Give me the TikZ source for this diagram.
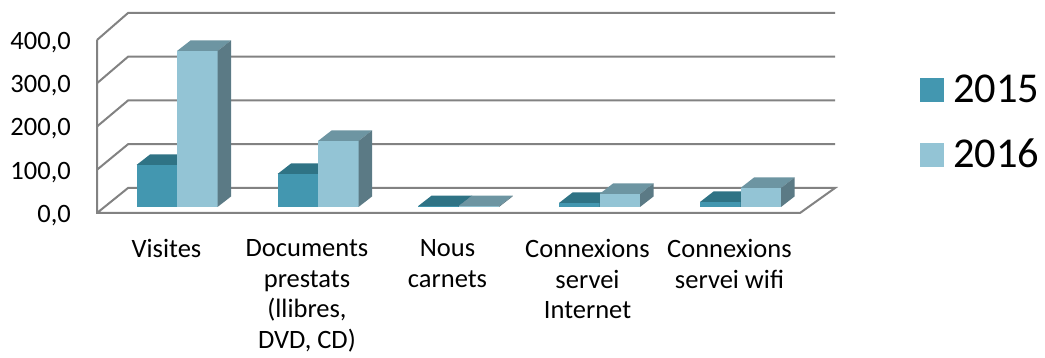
\documentclass[tikz,border=0pt]{standalone}
\usepackage{fontspec}
\setmainfont{Carlito}
\definecolor{cAf}{RGB}{67,151,176}
\definecolor{cAt}{RGB}{47,115,133}
\definecolor{cAs}{RGB}{42,100,118}
\definecolor{cBf}{RGB}{147,196,213}
\definecolor{cBt}{RGB}{109,149,162}
\definecolor{cBs}{RGB}{91,122,133}
\definecolor{gridc}{RGB}{130,130,130}
% x, height, front, top, side
\newcommand\barbox[5]{%
  \fill[#3] (#1,207) rectangle ({#1+40.5},{207-#2});
  \fill[#4] (#1,{207-#2}) -- ({#1+13.5},{196.5-#2}) -- ({#1+54},{196.5-#2}) -- ({#1+40.5},{207-#2}) -- cycle;
  \fill[#5] ({#1+40.5},207) -- ({#1+54},196.5) -- ({#1+54},{196.5-#2}) -- ({#1+40.5},{207-#2}) -- cycle;
}
\begin{document}
\begin{tikzpicture}[x=1pt,y=-1pt,
  gridline/.style={draw=gridc,line width=2pt},
  ylab/.style={anchor=base east,inner sep=0pt,font=\fontsize{26.5}{30.5}\selectfont},
  catlab/.style={anchor=north,inner sep=0pt,align=center,font=\fontsize{26.5}{30.5}\selectfont},
  leglab/.style={anchor=base west,inner sep=0pt,font=\fontsize{42.5}{48}\selectfont}]
\useasboundingbox (0,0) rectangle (1045,358);
% grid
\foreach \k in {0,1,2,3} {
  \draw[gridline] (97,{40+43.25*\k}) -- (128,{13+43.75*\k}) -- (835,{13+43.75*\k});
}
\draw[gridline] (97,40) -- (97,213) -- (800,213) -- (835,188) -- (128,188) -- (97,213);
% bars
\barbox{136.5}{42}{cAf}{cAt}{cAs}
\barbox{177}{156}{cBf}{cBt}{cBs}
\barbox{277.5}{33}{cAf}{cAt}{cAs}
\barbox{318}{66}{cBf}{cBt}{cBs}
\barbox{418}{0.8}{cAf}{cAt}{cAs}
\barbox{458.5}{0.8}{cBf}{cBt}{cBs}
\barbox{559}{4}{cAf}{cAt}{cAs}
\barbox{599.5}{13}{cBf}{cBt}{cBs}
\barbox{700}{5}{cAf}{cAt}{cAs}
\barbox{740.5}{19}{cBf}{cBt}{cBs}
% y labels
\node[ylab] (y400) at (71,49.5) {400,0};
\node[ylab] (y300) at (71,92.75) {300,0};
\node[ylab] (y200) at (71,136) {200,0};
\node[ylab] (y100) at (71,179.25) {100,0};
\node[ylab] (y0) at (71,222.5) {0,0};
% category labels
\node[catlab] (c1) at (166.5,239.5) {Visites};
\node[catlab] (c2) at (307,239.5) {Documents\\prestats\\(llibres,\\DVD, CD)};
\node[catlab] (c3) at (447.5,239.5) {Nous\\carnets};
\node[catlab] (c4) at (587.5,239.5) {Connexions\\servei\\Internet};
\node[catlab] (c5) at (729.5,239.5) {Connexions\\servei wifi};
% legend
\fill[cAf] (920,78) rectangle (944,102);
\fill[cBf] (920,143) rectangle (944,167);
\node[leglab] (l1) at (953,103) {2015};
\node[leglab] (l2) at (953,168) {2016};
\end{tikzpicture}
\end{document}
